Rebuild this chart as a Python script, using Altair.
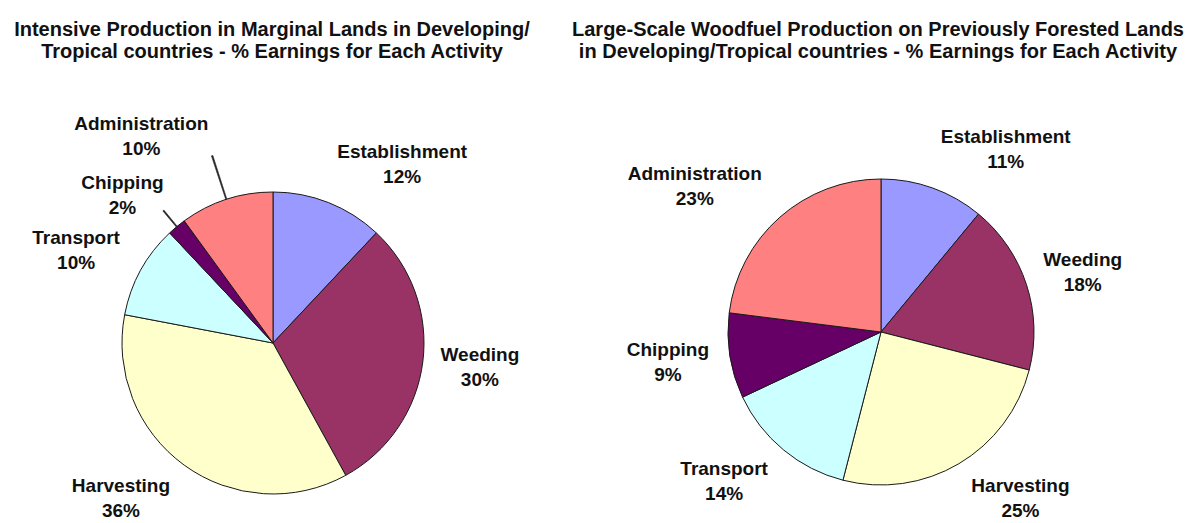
import math
import altair as alt
import pandas as pd

# ---------------- data ----------------
activities = ["Establishment", "Weeding", "Harvesting", "Transport", "Chipping", "Administration"]
left_values = [12, 30, 36, 10, 2, 10]
right_values = [11, 18, 25, 14, 9, 23]
slice_colors = ["#9999FF", "#993366", "#FFFFCC", "#CCFFFF", "#660066", "#FF8080"]
left_title = ["Intensive Production in Marginal Lands in Developing/",
              "Tropical countries - % Earnings for Each Activity"]
right_title = ["Large-Scale Woodfuel Production on Previously Forested Lands",
               "in Developing/Tropical countries - % Earnings for Each Activity"]

# ---------------- layout / style ----------------
W, H = 1178, 515
FONT = "Liberation Sans"
LABEL_SIZE = 19
TITLE_SIZE = 20
LABEL_GAP = 22
LABEL_HALF_H = 19
LINE_H = 25

theta_scale = alt.Scale(domain=[0, 100], range=[0, 2 * math.pi])
color_scale = alt.Scale(domain=activities, range=slice_colors)


def pie(values, cx, cy, R, pushed, leaders):
    df = pd.DataFrame({"activity": activities, "value": values,
                       "order": list(range(len(activities)))})
    push_expr = "0"
    for name, amount in pushed.items():
        push_expr = f"(datum.activity === '{name}' ? {amount} : {push_expr})"

    base = (
        alt.Chart(df)
        .transform_window(cum="sum(value)", sort=[alt.SortField("order")], frame=[None, 0])
        .transform_calculate(
            start="datum.cum - datum.value",
            mid="datum.cum - datum.value / 2",
            label="datum.activity + '\\n' + datum.value + '%'",
            push=push_expr,
        )
        .transform_calculate(
            a="datum.mid / 100 * 2 * PI",
            hw=f"0.5 * {LABEL_SIZE} * 0.53 * length(datum.activity)",
            rl=f"{R} + {LABEL_GAP} + datum.push",
        )
        .transform_calculate(
            lx="datum.rl * sin(datum.a) + datum.hw * (sin(datum.a) >= 0 ? 1 : -1)",
            ly=f"-datum.rl * cos(datum.a) - {LABEL_HALF_H} * cos(datum.a) - {LINE_H / 2}",
        )
        .transform_calculate(
            lr="sqrt(datum.lx * datum.lx + datum.ly * datum.ly)",
            lt="((atan2(datum.lx, -datum.ly) / (2 * PI)) * 100 + 100) % 100",
            l0="datum.mid - 0.06",
            l1="datum.mid + 0.06",
            lend="datum.rl - 1",
        )
    )

    slices = base.mark_arc(outerRadius=R, stroke="#1a1a1a", strokeWidth=1).encode(
        theta=alt.Theta("start:Q", scale=theta_scale, stack=False),
        theta2="cum:Q",
        color=alt.Color("activity:N", scale=color_scale, legend=None),
        x=alt.value(cx),
        y=alt.value(cy),
    )

    labels = base.mark_text(
        font=FONT, fontSize=LABEL_SIZE, fontWeight="bold", color="#111111",
        align="center", baseline="middle", lineBreak="\n", lineHeight=LINE_H,
    ).encode(
        theta=alt.Theta("lt:Q", scale=theta_scale),
        radius=alt.Radius("lr:Q", scale=None),
        text="label:N",
        x=alt.value(cx),
        y=alt.value(cy),
    )

    layers = [slices, labels]
    if leaders:
        lead = base.transform_filter(
            alt.FieldOneOfPredicate(field="activity", oneOf=leaders)
        ).mark_arc(fill="#222222", stroke="#222222", strokeWidth=0.6).encode(
            theta=alt.Theta("l0:Q", scale=theta_scale, stack=False),
            theta2="l1:Q",
            radius=alt.Radius("lend:Q", scale=None),
            radius2=alt.value(R),
            x=alt.value(cx),
            y=alt.value(cy),
        )
        layers.append(lead)
    return layers


def title(lines, x):
    df = pd.DataFrame({"t": ["\n".join(lines)]})
    return alt.Chart(df).mark_text(
        font=FONT, fontSize=TITLE_SIZE, fontWeight="bold", color="#111111",
        align="center", baseline="alphabetic", lineBreak="\n", lineHeight=22,
    ).encode(text="t:N", x=alt.value(x), y=alt.value(28))


layers = []
layers += pie(left_values, 265, 335, 151, {"Administration": 25}, ["Chipping", "Administration"])
layers += pie(right_values, 873, 324, 153, {}, [])
layers.append(title(left_title, 264))
layers.append(title(right_title, 870))

chart = (
    alt.layer(*layers)
    .properties(width=W, height=H, padding=0,
                autosize=alt.AutoSizeParams(type="none"), background="white")
    .configure_view(stroke=None)
)

chart.save("out.html", embed_options={"renderer": "svg", "actions": False})
